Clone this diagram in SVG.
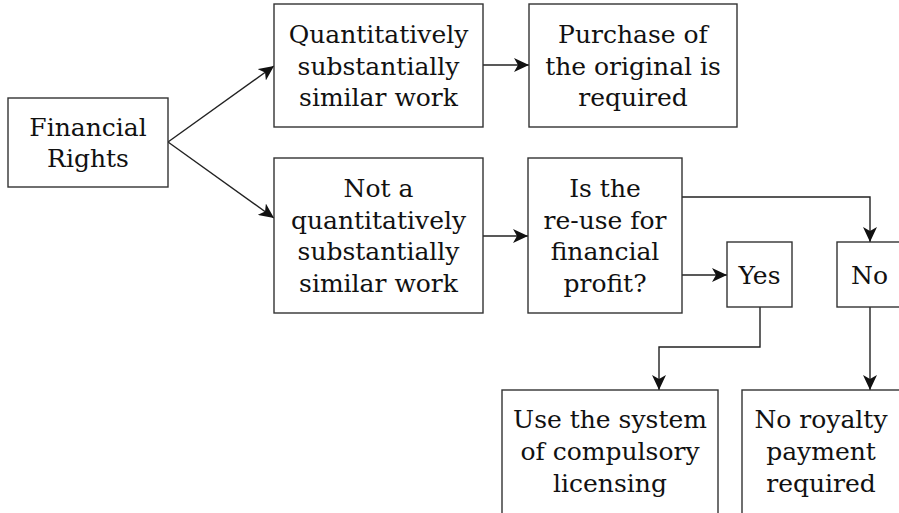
<svg xmlns="http://www.w3.org/2000/svg" width="899" height="513" viewBox="0 0 899 513">
<style>
.box{fill:#fff;stroke:#333;stroke-width:1.4}
.t{font-family:"DejaVu Serif","Liberation Serif",serif;font-size:25px;fill:#111;text-anchor:middle}
.c{fill:none;stroke:#222;stroke-width:1.4}
</style>
<defs>
<marker id="ah" markerUnits="userSpaceOnUse" markerWidth="16" markerHeight="14" refX="15" refY="7" orient="auto">
<path d="M0,0 L15,7 L0,14 L4,7 Z" fill="#111"/>
</marker>
</defs>
<rect width="899" height="513" fill="#fff"/>
<g id="connectors">
<path class="c" d="M168,142 L274,66" marker-end="url(#ah)"/>
<path class="c" d="M168,142 L274,218" marker-end="url(#ah)"/>
<path class="c" d="M483,65 L529,65" marker-end="url(#ah)"/>
<path class="c" d="M483,236 L528,236" marker-end="url(#ah)"/>
<path class="c" d="M682,197 L870,197 L870,242" marker-end="url(#ah)"/>
<path class="c" d="M682,275 L727,275" marker-end="url(#ah)"/>
<path class="c" d="M760,307 L760,347 L659,347 L659,390" marker-end="url(#ah)"/>
<path class="c" d="M870,307 L870,390" marker-end="url(#ah)"/>
</g>
<g id="financial">
<rect class="box" x="8" y="98" width="160" height="89"/>
<text class="t" x="88" y="136">Financial</text>
<text class="t" x="88" y="167">Rights</text>
</g>
<g id="quant">
<rect class="box" x="274" y="4" width="209" height="123"/>
<text class="t" x="378.5" y="43">Quantitatively</text>
<text class="t" x="378.5" y="75">substantially</text>
<text class="t" x="378.5" y="106">similar work</text>
</g>
<g id="purchase">
<rect class="box" x="529" y="4" width="208" height="123"/>
<text class="t" x="633" y="43">Purchase of</text>
<text class="t" x="633" y="75">the original is</text>
<text class="t" x="633" y="106">required</text>
</g>
<g id="notquant">
<rect class="box" x="274" y="158" width="209" height="155"/>
<text class="t" x="378.5" y="197">Not a</text>
<text class="t" x="378.5" y="229">quantitatively</text>
<text class="t" x="378.5" y="260">substantially</text>
<text class="t" x="378.5" y="292">similar work</text>
</g>
<g id="profit">
<rect class="box" x="528" y="158" width="154" height="155"/>
<text class="t" x="605" y="197">Is the</text>
<text class="t" x="605" y="229">re-use for</text>
<text class="t" x="605" y="260">financial</text>
<text class="t" x="605" y="292">profit?</text>
</g>
<g id="yes">
<rect class="box" x="727" y="242" width="65" height="65"/>
<text class="t" x="759.5" y="284">Yes</text>
</g>
<g id="no">
<rect class="box" x="837" y="242" width="65" height="65"/>
<text class="t" x="869.5" y="284">No</text>
</g>
<g id="compulsory">
<rect class="box" x="502" y="390" width="216" height="140"/>
<text class="t" x="610" y="428">Use the system</text>
<text class="t" x="610" y="460">of compulsory</text>
<text class="t" x="610" y="492">licensing</text>
</g>
<g id="noroyalty">
<rect class="box" x="742" y="390" width="160" height="140"/>
<text class="t" x="821" y="428">No royalty</text>
<text class="t" x="821" y="460">payment</text>
<text class="t" x="821" y="492">required</text>
</g>
</svg>
